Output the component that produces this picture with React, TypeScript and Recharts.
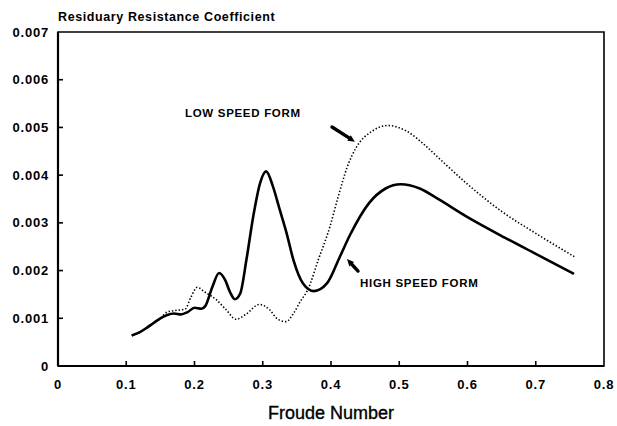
import React from 'react';
import { LineChart, Line, XAxis, YAxis, ReferenceArea, ReferenceLine, ReferenceDot } from 'recharts';

// Froude numbers and residuary resistance coefficients
const froudeHigh = [0.108, 0.12, 0.13, 0.14, 0.15, 0.16, 0.17, 0.18, 0.19, 0.2, 0.21, 0.216, 0.226, 0.236, 0.245, 0.252, 0.259, 0.267, 0.276, 0.286, 0.296, 0.305, 0.315, 0.325, 0.335, 0.345, 0.359, 0.375, 0.394, 0.413, 0.428, 0.456, 0.48, 0.502, 0.53, 0.558, 0.6, 0.656, 0.7, 0.756];
const cHigh = [0.00064, 0.00071, 0.0008, 0.0009, 0.001, 0.00107, 0.0011, 0.00108, 0.00113, 0.00122, 0.0012, 0.00126, 0.00165, 0.00195, 0.0018, 0.00155, 0.0014, 0.00152, 0.00222, 0.00313, 0.00383, 0.00408, 0.00376, 0.00327, 0.00278, 0.00222, 0.00173, 0.00157, 0.00173, 0.00229, 0.00275, 0.00342, 0.00372, 0.00381, 0.00372, 0.00349, 0.00312, 0.00268, 0.00235, 0.00193];

const froudeLow = [0.108, 0.12, 0.13, 0.14, 0.15, 0.16, 0.17, 0.186, 0.195, 0.204, 0.215, 0.232, 0.245, 0.261, 0.275, 0.295, 0.31, 0.322, 0.334, 0.345, 0.355, 0.366, 0.382, 0.398, 0.41, 0.424, 0.437, 0.46, 0.483, 0.51, 0.535, 0.56, 0.6, 0.65, 0.7, 0.758];
const cLow = [0.00064, 0.00071, 0.0008, 0.0009, 0.001, 0.00113, 0.00116, 0.00119, 0.00145, 0.00165, 0.00155, 0.00139, 0.0012, 0.00098, 0.00108, 0.00129, 0.00118, 0.00098, 0.00093, 0.0011, 0.00135, 0.0016, 0.00225, 0.0029, 0.00352, 0.00418, 0.00458, 0.00492, 0.00504, 0.00493, 0.00466, 0.00433, 0.00381, 0.00324, 0.00278, 0.00228];

const xTicks = [0, 0.1, 0.2, 0.3, 0.4, 0.5, 0.6, 0.7, 0.8];
const yTicks = [0, 0.001, 0.002, 0.003, 0.004, 0.005, 0.006, 0.007];

const titleText = 'Residuary Resistance Coefficient';
const xTitle = 'Froude Number';
const lowLabel = { text: 'LOW SPEED FORM', f: 0.186, c: 0.0053 };
const highLabel = { text: 'HIGH SPEED FORM', f: 0.4425, c: 0.00174 };
const lowArrow = [{ x: 0.4015, y: 0.00501 }, { x: 0.435, y: 0.0047 }];
const highArrow = [{ x: 0.4396, y: 0.00199 }, { x: 0.4234, y: 0.00224 }];

const highData = froudeHigh.map((f, i) => ({ f, v: cHigh[i] }));
const lowData = froudeLow.map((f, i) => ({ f, v: cLow[i] }));

const FONT = '"Liberation Sans", Arial, Helvetica, sans-serif';

const fmtX = (v: number) => (v === 0 ? '0' : v.toFixed(1));
const fmtY = (v: number) => (v === 0 ? '0' : v.toFixed(3));

const XTick = (props: any) => {
  const { x, y, payload } = props;
  const v = payload.value;
  const inner = v > 0 && v < 0.8;
  return (
    <g>
      {inner && <line x1={x} x2={x} y1={y - 12} y2={y - 17} stroke="#000" strokeWidth={1.6} />}
      <text x={x} y={y} dy={11} textAnchor="middle" fontFamily={FONT} fontWeight="bold" fontSize={13} letterSpacing={0.8} fill="#000">
        {fmtX(v)}
      </text>
    </g>
  );
};

const YTick = (props: any) => {
  const { x, y, payload } = props;
  const v = payload.value;
  const inner = v > 0 && v < 0.007;
  return (
    <g>
      {inner && <line x1={x + 9} x2={x + 14} y1={y} y2={y} stroke="#000" strokeWidth={1.6} />}
      <text x={x} y={y} dy={4.5} textAnchor="end" fontFamily={FONT} fontWeight="bold" fontSize={13} letterSpacing={0.8} fill="#000">
        {fmtY(v)}
      </text>
    </g>
  );
};

const Arrow = (props: any) => {
  const { x1, y1, x2, y2 } = props;
  const dx = x2 - x1;
  const dy = y2 - y1;
  const len = Math.sqrt(dx * dx + dy * dy) || 1;
  const ux = dx / len;
  const uy = dy / len;
  const hl = 7;
  const hw = 3.2;
  const bx = x2 - ux * hl;
  const by = y2 - uy * hl;
  const pts = `${x2},${y2} ${bx - uy * hw},${by + ux * hw} ${bx + uy * hw},${by - ux * hw}`;
  return (
    <g>
      <line x1={x1} y1={y1} x2={bx} y2={by} stroke="#000" strokeWidth={3.4} strokeLinecap="round" />
      <polygon points={pts} fill="#000" />
    </g>
  );
};

const makeLabelShape = (text: string) => (p: any) => (
  <text x={p.cx} y={p.cy} dy={4} textAnchor="start" fontFamily={FONT} fontWeight="bold" fontSize={11.5} letterSpacing={0.7} fill="#000">
    {text}
  </text>
);

const TitleLabel = (props: any) => {
  const vb = props.viewBox || {};
  return (
    <text x={vb.x + vb.width} y={vb.y - 11} textAnchor="start" fontFamily={FONT} fontWeight="bold" fontSize={12.5} letterSpacing={0.6} fill="#000">
      {titleText}
    </text>
  );
};

export default function App() {
  return (
    <div style={{ position: 'absolute', left: 0, top: 0, background: '#fff' }}>
      <LineChart width={617} height={426} margin={{ top: 32, right: 13, left: 0, bottom: 0 }}>
        <ReferenceArea x1={0} x2={0.8} y1={0} y2={0.007} fill="none" stroke="#000" strokeWidth={1.6} ifOverflow="visible" />
        <XAxis
          type="number"
          dataKey="f"
          domain={[0, 0.8]}
          ticks={xTicks}
          height={60}
          tickSize={0}
          tickMargin={12}
          tickLine={false}
          axisLine={{ stroke: '#000', strokeWidth: 2.2 }}
          tick={<XTick />}
          interval={0}
          allowDataOverflow
          label={{ value: xTitle, position: 'insideBottom', offset: 7, fontFamily: FONT, fontSize: 18, fill: '#000', stroke: '#000', strokeWidth: 0.35 }}
        />
        <YAxis
          type="number"
          domain={[0, 0.007]}
          ticks={yTicks}
          width={58}
          tickSize={0}
          tickMargin={9}
          tickLine={false}
          axisLine={{ stroke: '#000', strokeWidth: 2.2 }}
          tick={<YTick />}
          interval={0}
          allowDataOverflow
          label={<TitleLabel />}
        />
        <Line data={lowData} dataKey="v" type="monotone" stroke="#000" strokeWidth={1.6} strokeDasharray="1.4 2" dot={false} isAnimationActive={false} />
        <Line data={highData} dataKey="v" type="monotone" stroke="#000" strokeWidth={2.6} dot={false} isAnimationActive={false} />
        <ReferenceLine segment={lowArrow} shape={Arrow} ifOverflow="visible" />
        <ReferenceLine segment={highArrow} shape={Arrow} ifOverflow="visible" />
        <ReferenceDot x={lowLabel.f} y={lowLabel.c} r={0} shape={makeLabelShape(lowLabel.text)} ifOverflow="visible" />
        <ReferenceDot x={highLabel.f} y={highLabel.c} r={0} shape={makeLabelShape(highLabel.text)} ifOverflow="visible" />
      </LineChart>
    </div>
  );
}
